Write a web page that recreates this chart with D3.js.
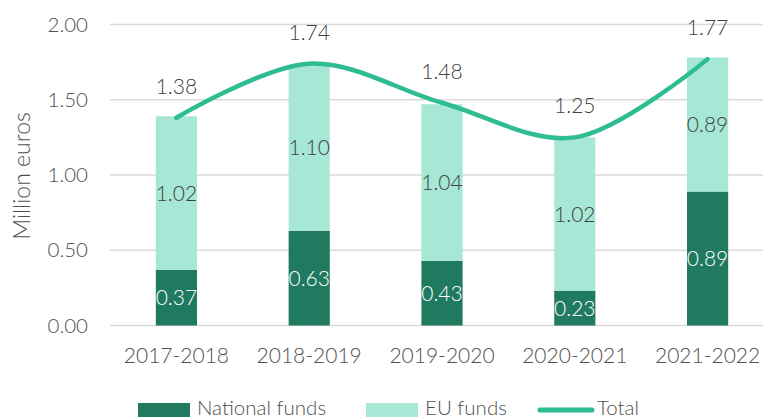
<!DOCTYPE html>
<html lang="en">
  <head>
    <meta charset="UTF-8" />
    <title>Funds by year</title>
    <script src="https://d3js.org/d3.v7.min.js"></script>
    <style>
      body {
        margin: 0;
        background: #fff;
      }
      text {
        font-family: Lato, "Open Sans", sans-serif;
        font-weight: 300;
        fill: #505050;
      }
    </style>
  </head>
  <body>
    <svg width="763" height="419"></svg>

    <script>
      var years = ["2017-2018", "2018-2019", "2019-2020", "2020-2021", "2021-2022"];
      var national = [0.37, 0.63, 0.43, 0.23, 0.89];
      var eu = [1.02, 1.1, 1.04, 1.02, 0.89];
      var totals = [1.38, 1.74, 1.48, 1.25, 1.77];
      var yTicks = [0, 0.5, 1, 1.5, 2];

      var colNational = "#1f7a60",
        colEU = "#a6e7d5",
        colTotal = "#2ebc93";

      var svg = d3.select("svg");

      var x = d3.scaleBand().domain(years).range([110, 774]).paddingInner(0.69).paddingOuter(0.345);
      var y = d3.scaleLinear().domain([0, 2]).range([325.5, 24.5]);

      // gridlines
      svg
        .selectAll(".grid")
        .data(yTicks)
        .enter()
        .append("line")
        .attr("x1", 110)
        .attr("x2", 763)
        .attr("y1", function (d) { return y(d); })
        .attr("y2", function (d) { return y(d); })
        .attr("stroke", "#d9d9d9")
        .attr("stroke-width", 1.5);

      svg
        .selectAll(".ytick")
        .data(yTicks)
        .enter()
        .append("text")
        .attr("x", 88)
        .attr("y", function (d) { return y(d) + 7; })
        .attr("text-anchor", "end")
        .style("font-size", "20.5px")
        .text(function (d) { return d3.format(".2f")(d); });

      svg
        .append("text")
        .attr("transform", "translate(30," + 176 + ") rotate(-90)")
        .attr("text-anchor", "middle")
        .style("font-size", "23px")
        .text("Million euros");

      // stacked bars
      var rows = years.map(function (yr, i) {
        return { year: yr, nat: national[i], eu: eu[i], total: totals[i] };
      });

      var bars = svg.selectAll(".bar").data(rows).enter().append("g");

      bars
        .append("rect")
        .attr("x", function (d) { return x(d.year); })
        .attr("width", x.bandwidth())
        .attr("y", function (d) { return y(d.nat); })
        .attr("height", function (d) { return y(0) - y(d.nat); })
        .attr("fill", colNational);

      bars
        .append("rect")
        .attr("x", function (d) { return x(d.year); })
        .attr("width", x.bandwidth())
        .attr("y", function (d) { return y(d.nat + d.eu); })
        .attr("height", function (d) { return y(d.nat) - y(d.nat + d.eu); })
        .attr("fill", colEU);

      // total line (smoothed)
      var line = d3
        .line()
        .x(function (d) { return x(d.year) + x.bandwidth() / 2; })
        .y(function (d) { return y(d.total); })
        .curve(d3.curveCatmullRom.alpha(0.5));

      svg
        .append("path")
        .datum(rows)
        .attr("d", line)
        .attr("fill", "none")
        .attr("stroke", colTotal)
        .attr("stroke-width", 4.5)
        .attr("stroke-linecap", "round");

      // labels
      bars
        .append("text")
        .attr("x", function (d) { return x(d.year) + x.bandwidth() / 2; })
        .attr("y", function (d) { return (y(0) + y(d.nat)) / 2 + 7.5; })
        .attr("text-anchor", "middle")
        .style("font-size", "21px")
        .style("fill", "#ffffff")
        .text(function (d) { return d.nat.toFixed(2); });

      bars
        .append("text")
        .attr("x", function (d) { return x(d.year) + x.bandwidth() / 2; })
        .attr("y", function (d) { return (y(d.nat) + y(d.nat + d.eu)) / 2 + 7.5; })
        .attr("text-anchor", "middle")
        .style("font-size", "21px")
        .style("fill", "#404040")
        .text(function (d) { return d.eu.toFixed(2); });

      bars
        .append("text")
        .attr("x", function (d) { return x(d.year) + x.bandwidth() / 2; })
        .attr("y", function (d) { return y(d.total) - 24; })
        .attr("text-anchor", "middle")
        .style("font-size", "21px")
        .style("fill", "#404040")
        .text(function (d) { return d.total.toFixed(2); });

      // x axis labels
      svg
        .selectAll(".xlab")
        .data(years)
        .enter()
        .append("text")
        .attr("x", function (d) { return x(d) + x.bandwidth() / 2; })
        .attr("y", 363)
        .attr("text-anchor", "middle")
        .style("font-size", "21px")
        .text(function (d) { return d; });

      // legend
      var legend = [
        { label: "National funds", type: "rect", color: colNational, x: 138 },
        { label: "EU funds", type: "rect", color: colEU, x: 366 },
        { label: "Total", type: "line", color: colTotal, x: 538 },
      ];

      var lg = svg.selectAll(".legend").data(legend).enter().append("g");

      lg.filter(function (d) { return d.type === "rect"; })
        .append("rect")
        .attr("x", function (d) { return d.x; })
        .attr("y", 403)
        .attr("width", 52)
        .attr("height", 14)
        .attr("fill", function (d) { return d.color; });

      lg.filter(function (d) { return d.type === "line"; })
        .append("line")
        .attr("x1", function (d) { return d.x + 2; })
        .attr("x2", function (d) { return d.x + 54; })
        .attr("y1", 410)
        .attr("y2", 410)
        .attr("stroke", function (d) { return d.color; })
        .attr("stroke-width", 5)
        .attr("stroke-linecap", "round");

      lg.append("text")
        .attr("x", function (d) { return d.x + 59; })
        .attr("y", 415)
        .style("font-size", "20.5px")
        .text(function (d) { return d.label; });
    </script>
  </body>
</html>
